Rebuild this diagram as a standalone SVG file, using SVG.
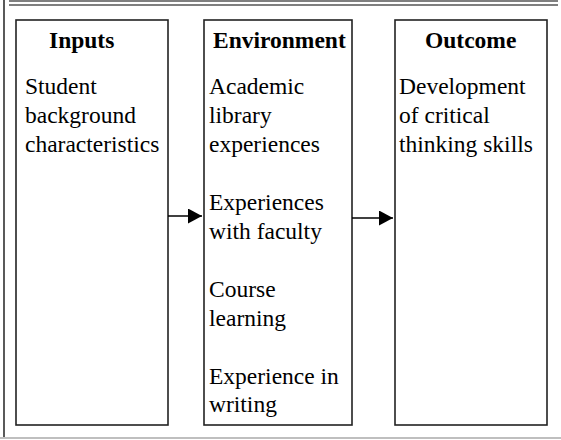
<svg xmlns="http://www.w3.org/2000/svg" width="561" height="440" viewBox="0 0 561 440">
<style>
.box{fill:#fff;stroke:#222;stroke-width:1.6}
.t{font-family:"Liberation Serif","Times New Roman",serif;font-size:23.5px;fill:#000}
.h{font-weight:bold}
.frame{stroke:#555;stroke-width:1.3;fill:none}
.conn{stroke:#000;stroke-width:1.5;fill:none}
</style>
<defs>
<marker id="ah" markerWidth="14" markerHeight="15" refX="14" refY="7.5" orient="auto" markerUnits="userSpaceOnUse" viewBox="0 0 14 15">
<path d="M0,0 L14,7.5 L0,15 Z" fill="#000"/>
</marker>
</defs>
<rect width="561" height="440" fill="#fff"/>
<g id="frame">
<line class="frame" x1="9" y1="1" x2="558" y2="1"/>
<line class="frame" x1="9" y1="5" x2="558" y2="5"/>
<line x1="4" y1="0" x2="4" y2="437" stroke="#000" stroke-width="1.3"/>
<line x1="0" y1="438" x2="561" y2="438" stroke="#aaa" stroke-width="1.5"/>
</g>
<g id="inputs">
<rect class="box" x="16" y="20" width="152" height="405"/>
<text class="t h" x="49" y="48">Inputs</text>
<text class="t" x="25" y="94">Student</text>
<text class="t" x="25" y="123">background</text>
<text class="t" x="25" y="152">characteristics</text>
</g>
<g id="environment">
<rect class="box" x="204" y="20" width="148" height="405"/>
<text class="t h" x="213" y="48">Environment</text>
<text class="t" x="209" y="94">Academic</text>
<text class="t" x="209" y="123">library</text>
<text class="t" x="209" y="152">experiences</text>
<text class="t" x="209" y="210">Experiences</text>
<text class="t" x="209" y="239">with  faculty</text>
<text class="t" x="209" y="297">Course</text>
<text class="t" x="209" y="326">learning</text>
<text class="t" x="209" y="384">Experience in</text>
<text class="t" x="209" y="412">writing</text>
</g>
<g id="outcome">
<rect class="box" x="395" y="20" width="152" height="405"/>
<text class="t h" x="425" y="48">Outcome</text>
<text class="t" x="399" y="94">Development</text>
<text class="t" x="399" y="123">of critical</text>
<text class="t" x="399" y="152">thinking skills</text>
</g>
<g id="connectors">
<line class="conn" x1="168" y1="216" x2="202" y2="216" marker-end="url(#ah)"/>
<line class="conn" x1="352" y1="218" x2="393" y2="218" marker-end="url(#ah)"/>
</g>
</svg>
